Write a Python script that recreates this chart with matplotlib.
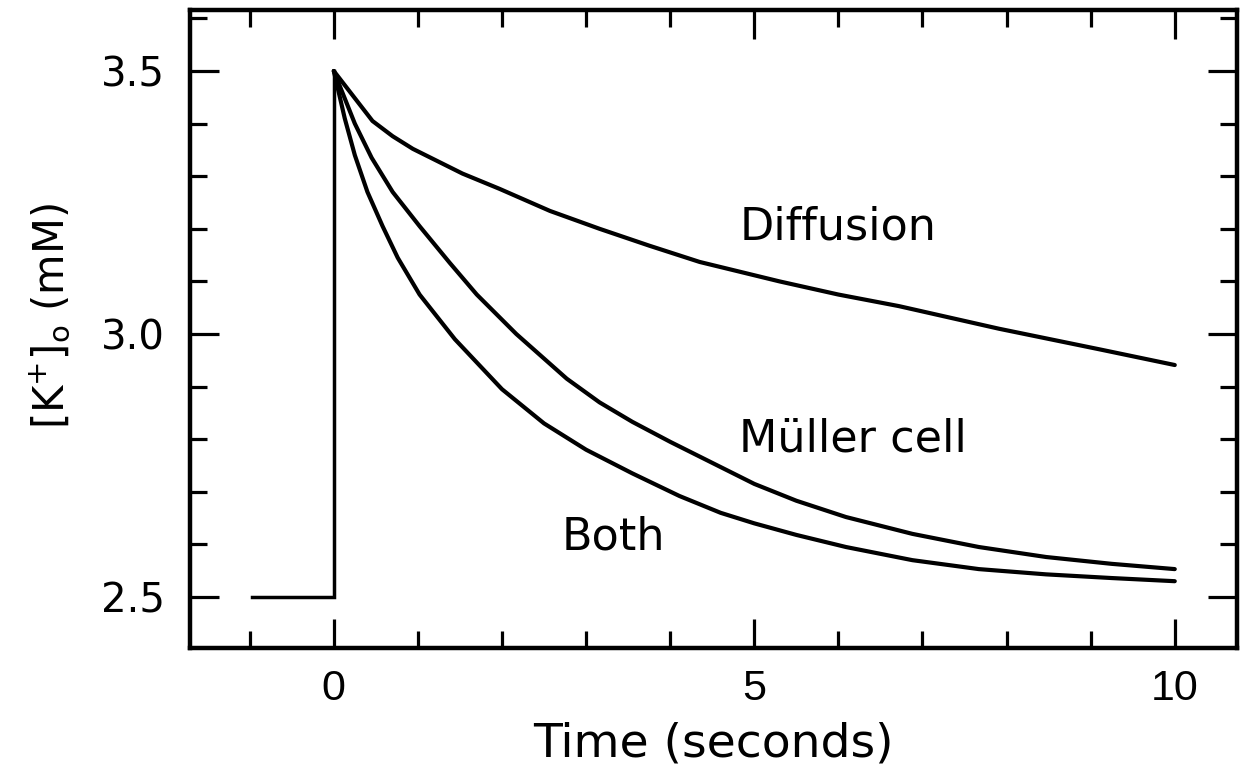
import matplotlib
matplotlib.use('Agg')
import matplotlib.pyplot as plt
from matplotlib.ticker import MultipleLocator, FixedLocator

plt.rcParams['font.family'] = ['DejaVu Sans']
plt.rcParams['mathtext.fontset'] = 'dejavusans'

# ---- data ----
base_time = [-0.97, 0.0, 0.0]
base_k = [2.5, 2.5, 3.5]

diff_time = [0, 0.46, 0.70, 0.94, 1.53, 1.97, 2.57, 3.16, 3.75, 4.35, 5.30, 6.0, 6.72, 7.91, 9.10, 10]
diff_k = [3.50, 3.405, 3.376, 3.352, 3.305, 3.276, 3.234, 3.200, 3.168, 3.137, 3.100, 3.075, 3.053, 3.010, 2.971, 2.941]

muller_time = [0, 0.25, 0.45, 0.70, 1.02, 1.38, 1.70, 2.17, 2.77, 3.16, 3.55, 4.0, 4.5, 5.0, 5.5, 6.09, 6.88, 7.67, 8.47, 9.25, 10]
muller_k = [3.50, 3.40, 3.335, 3.27, 3.205, 3.135, 3.075, 3.00, 2.915, 2.87, 2.833, 2.795, 2.755, 2.715, 2.683, 2.652, 2.62, 2.595, 2.576, 2.563, 2.553]

both_time = [0, 0.13, 0.25, 0.40, 0.58, 0.76, 1.02, 1.44, 2.0, 2.5, 3.0, 3.55, 4.11, 4.6, 5.0, 5.5, 6.09, 6.88, 7.67, 8.47, 9.25, 10]
both_k = [3.50, 3.41, 3.34, 3.27, 3.205, 3.145, 3.075, 2.99, 2.895, 2.83, 2.78, 2.735, 2.692, 2.66, 2.64, 2.618, 2.595, 2.57, 2.553, 2.543, 2.536, 2.530]

x_ticks = [0, 5, 10]
x_ticklabels = ['0', '5', '10']
y_ticks = [2.5, 3.0, 3.5]
y_ticklabels = ['2.5', '3.0', '3.5']

labels = ['Diffusion', 'Müller cell', 'Both']
label_pos = [(4.82, 3.203), (4.82, 2.80), (2.71, 2.614)]

# ---- figure ----
W, H = 1248, 772
fig = plt.figure(figsize=(W / 100, H / 100), dpi=100)
ax = fig.add_axes([190 / W, 1 - 648 / H, (1237 - 190) / W, (648 - 10) / H])

lw = 3.0
ax.plot(base_time, base_k, color='black', lw=2.5, solid_joinstyle='miter')
ax.plot(diff_time, diff_k, color='black', lw=lw, solid_capstyle='round', solid_joinstyle='round')
ax.plot(muller_time, muller_k, color='black', lw=lw, solid_capstyle='round', solid_joinstyle='round')
ax.plot(both_time, both_k, color='black', lw=lw, solid_capstyle='round', solid_joinstyle='round')

ax.set_xlim(-1.71, 10.74)
ax.set_ylim(2.403, 3.616)

ax.xaxis.set_major_locator(FixedLocator(x_ticks))
ax.xaxis.set_minor_locator(MultipleLocator(1))
ax.yaxis.set_major_locator(FixedLocator(y_ticks))
ax.yaxis.set_minor_locator(MultipleLocator(0.1))
ax.set_xticklabels(x_ticklabels, family=['Liberation Sans', 'DejaVu Sans'])
ax.set_yticklabels(y_ticklabels)

ax.tick_params(which='both', direction='in', top=True, right=True, color='black')
ax.tick_params(which='major', length=21, width=2.3)
ax.tick_params(which='minor', length=12, width=2.3)
ax.tick_params(axis='x', which='major', labelsize=31, pad=15)
ax.tick_params(axis='y', which='major', labelsize=29, pad=18)

for sp in ax.spines.values():
    sp.set_linewidth(3.2)

ax.set_xlabel('Time (seconds)', fontsize=34)
ax.xaxis.set_label_coords(0.5, -0.115)
ax.set_ylabel(r'$[\mathrm{K}^{+}]_{\mathrm{o}}$ (mM)', fontsize=30)
ax.yaxis.set_label_coords(-0.112, 0.52)

for txt, (tx, ty) in zip(labels, label_pos):
    ax.text(tx, ty, txt, fontsize=32, ha='left', va='center')

fig.savefig('out.png', dpi=100)
